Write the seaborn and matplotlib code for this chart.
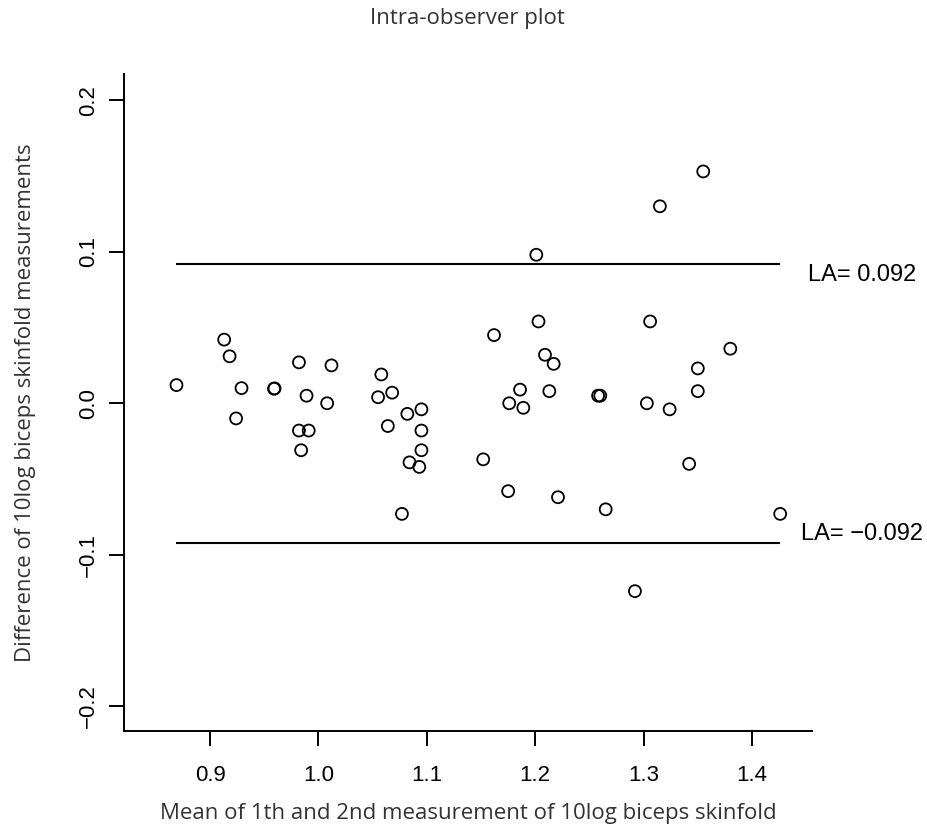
import matplotlib
matplotlib.use("Agg")
import matplotlib.pyplot as plt
import seaborn as sns
import pandas as pd

# ---- data ----
mean_vals = [0.869, 0.913, 0.918, 0.929, 0.924, 0.959, 0.9595, 0.982, 0.989, 0.982,
             0.991, 0.984, 1.012, 1.008, 1.058, 1.055, 1.068, 1.064, 1.082, 1.095,
             1.095, 1.095, 1.084, 1.093, 1.077, 1.152, 1.162, 1.176, 1.175, 1.186,
             1.189, 1.201, 1.203, 1.209, 1.213, 1.217, 1.221, 1.258, 1.260, 1.265,
             1.292, 1.303, 1.306, 1.315, 1.324, 1.342, 1.350, 1.350, 1.355, 1.380,
             1.426]
diff_vals = [0.012, 0.042, 0.031, 0.010, -0.010, 0.0096, 0.0098, 0.027, 0.005, -0.018,
             -0.018, -0.031, 0.025, 0.000, 0.019, 0.004, 0.007, -0.015, -0.007, -0.004,
             -0.018, -0.031, -0.039, -0.042, -0.073, -0.037, 0.045, 0.000, -0.058, 0.009,
             -0.003, 0.098, 0.054, 0.032, 0.008, 0.026, -0.062, 0.005, 0.005, -0.070,
             -0.124, 0.000, 0.054, 0.130, -0.004, -0.040, 0.023, 0.008, 0.153, 0.036,
             -0.073]
la_upper = 0.092
la_lower = -0.092
x_ticks = [0.9, 1.0, 1.1, 1.2, 1.3, 1.4]
y_ticks = [-0.2, -0.1, 0.0, 0.1, 0.2]

title_text = "Intra-observer plot"
x_label = "Mean of 1th and 2nd measurement of 10log biceps skinfold"
y_label = "Difference of 10log biceps skinfold measurements"

df = pd.DataFrame({"mean": mean_vals, "diff": diff_vals})

sns.set_style("white")
plt.rcParams["font.family"] = ["Liberation Sans", "DejaVu Sans"]

fig = plt.figure(figsize=(9.28, 8.39), dpi=100)
ax = fig.add_axes([0.134, 0.1287, 0.7407, 0.7831])

sns.scatterplot(data=df, x="mean", y="diff", ax=ax, marker="o", s=74,
                facecolor="none", edgecolor="black", linewidth=1.3, zorder=3)

xmin, xmax = min(mean_vals), max(mean_vals)
ax.hlines([la_upper, la_lower], xmin, xmax, colors="black", linewidth=1.5)

ax.text(1.5015, la_upper - 0.0076, f"LA= {la_upper:.3f}", ha="center", va="center",
        fontsize=17, color="black", clip_on=False)
ax.text(1.5015, la_lower + 0.006, f"LA= \u2212{abs(la_lower):.3f}", ha="center",
        va="center", fontsize=17, color="black", clip_on=False)

ax.set_xlim(0.8209, 1.4551)
ax.set_ylim(-0.2163, 0.2173)
ax.set_xticks(x_ticks)
ax.set_xticklabels([f"{v:.1f}" for v in x_ticks], fontsize=16, color="black")
ax.set_yticks(y_ticks)
ax.set_yticklabels([f"{v:.1f}".replace("-", "\u2212") for v in y_ticks],
                   fontsize=16, rotation=90, va="center", color="black")

sns.despine(ax=ax)
for side in ("left", "bottom"):
    ax.spines[side].set_linewidth(1.4)
    ax.spines[side].set_color("black")
ax.tick_params(axis="both", direction="out", length=10.5, width=1.4, color="black",
               left=True, bottom=True)
ax.tick_params(axis="x", pad=14)
ax.tick_params(axis="y", pad=8)

ax.set_xlabel(x_label, family=["Open Sans", "DejaVu Sans"], fontsize=16,
              color="#333333", labelpad=12)
ax.set_ylabel(y_label, family=["Open Sans", "DejaVu Sans"], fontsize=16,
              color="#333333", labelpad=30)
fig.text(0.504, 0.978, title_text, family=["Open Sans", "DejaVu Sans"], fontsize=16,
         color="#333333", ha="center", va="center")

fig.savefig("out.png", dpi=100)
